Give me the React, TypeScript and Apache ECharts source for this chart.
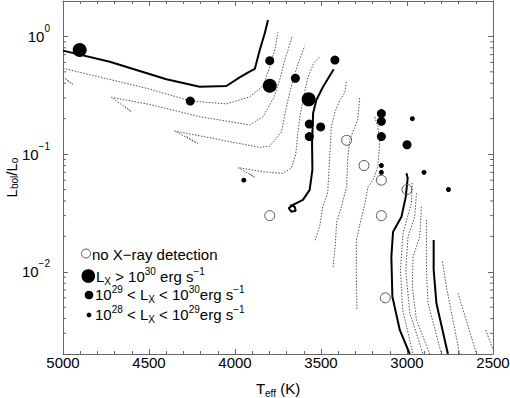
import { useEffect, useRef } from 'react';
import * as echarts from 'echarts';

const FONT = "'Liberation Sans', Arial, Helvetica, sans-serif";

// Axis ranges / ticks
const xMin = 2500;
const xMax = 5000;
const xInterval = 500;
const yMin = 0.002;
const yMax = 2;
const yMinorTicks = [
  0.003, 0.004, 0.005, 0.006, 0.007, 0.008, 0.009,
  0.02, 0.03, 0.04, 0.05, 0.06, 0.07, 0.08, 0.09,
  0.2, 0.3, 0.4, 0.5, 0.6, 0.7, 0.8, 0.9,
];

// Stars [Teff, Lbol/Lsun]
const noDetection = [
  [3351, 0.131], [3250, 0.08], [3149, 0.06], [3000, 0.05],
  [3798, 0.03], [3149, 0.03], [3126, 0.006],
];
const lxAbove30 = [[4903, 0.767], [3798, 0.381], [3572, 0.292]];
const lx29to30 = [
  [4260, 0.282], [3798, 0.622], [3649, 0.441], [3419, 0.63],
  [3568, 0.18], [3502, 0.17], [3568, 0.141], [3149, 0.221],
  [3149, 0.19], [3149, 0.141], [3000, 0.12],
];
const lx28to29 = [
  [3949, 0.06], [2969, 0.2], [3149, 0.08], [3149, 0.07], [2901, 0.07], [2759, 0.05],
];

// Solid tracks
const solid1 = [
  [5000, 0.757], [4728, 0.61], [4399, 0.432], [4205, 0.374], [4050, 0.379],
  [3973, 0.448], [3915, 0.501], [3885, 0.529], [3856, 0.767], [3827, 1.063], [3808, 1.379],
];
const solid2 = [
  [3426, 0.526], [3488, 0.374], [3527, 0.288], [3546, 0.222], [3552, 0.124],
  [3550, 0.0733], [3566, 0.0496], [3605, 0.0408], [3663, 0.037], [3688, 0.0347],
  [3672, 0.0324], [3647, 0.033], [3653, 0.0357], [3679, 0.037],
];
const solid3 = [
  [3003, 0.0687], [2996, 0.0627], [3007, 0.0435], [3032, 0.0294], [3081, 0.0219],
  [3091, 0.0134], [3085, 0.00615], [3042, 0.0032], [2984, 0.002],
];
const solid4 = [[2845, 0.0186], [2845, 0.0104], [2829, 0.0054], [2762, 0.002]];

// Dotted tracks
const dotHook = [[5000, 0.457], [4942, 0.391], [4985, 0.43]];
const dotA = [
  [5000, 0.536], [4728, 0.431], [4496, 0.357], [4259, 0.283], [4050, 0.267],
  [3915, 0.306], [3837, 0.379], [3798, 0.553], [3769, 0.767], [3750, 1.084],
];
const dotB = [
  [4641, 0.254], [4602, 0.229], [4719, 0.304], [4496, 0.264], [4205, 0.208],
  [3915, 0.177], [3839, 0.207], [3775, 0.3], [3740, 0.427], [3711, 0.631],
  [3688, 0.797], [3667, 1.008],
];
const dotC = [
  [4281, 0.141], [4217, 0.123], [4351, 0.157], [4060, 0.13], [3856, 0.114],
  [3798, 0.117], [3730, 0.154], [3699, 0.261], [3665, 0.418], [3630, 0.607], [3595, 0.829],
];
const dotD = [
  [3915, 0.0678], [3885, 0.0636], [3982, 0.0767], [3827, 0.0705], [3723, 0.0685],
  [3672, 0.0762], [3647, 0.0984], [3635, 0.151], [3621, 0.215], [3605, 0.288],
  [3577, 0.443], [3542, 0.595], [3508, 0.669],
];
const dotE = [
  [3352, 0.412], [3362, 0.331], [3391, 0.288], [3420, 0.224], [3440, 0.171],
  [3449, 0.0984], [3461, 0.0468], [3490, 0.0356], [3508, 0.0242], [3537, 0.018],
];
const dotF = [
  [3275, 0.3], [3287, 0.195], [3333, 0.132], [3345, 0.0891], [3351, 0.0529],
  [3381, 0.0357], [3409, 0.0265], [3417, 0.0169], [3430, 0.0107],
];
const dotG = [
  [3188, 0.207], [3169, 0.171], [3159, 0.124], [3169, 0.0782], [3198, 0.0603],
  [3227, 0.0526], [3246, 0.037], [3275, 0.025], [3294, 0.0186], [3295, 0.0104], [3291, 0.00474],
];
const dot1 = [[2970, 0.0569], [2974, 0.0385], [3023, 0.0214], [3038, 0.0104], [3025, 0.00474], [2965, 0.002]];
const dot2 = [[2945, 0.0465], [2955, 0.0294], [2994, 0.0199], [3007, 0.0104], [2984, 0.00447], [2907, 0.002]];
const dot3 = [[2916, 0.0357], [2926, 0.0199], [2965, 0.0134], [2969, 0.00748], [2945, 0.0039], [2868, 0.002]];
const dot4 = [[2887, 0.0276], [2887, 0.0104], [2878, 0.00543], [2800, 0.002]];
const dot5 = [[2794, 0.0122], [2771, 0.00748], [2694, 0.002]];
const dot6 = [[2703, 0.00657], [2674, 0.00474], [2596, 0.002]];
const dot7 = [[2542, 0.0032], [2500, 0.00217]];

const solidTracks = [solid1, solid2, solid3, solid4];
const dottedTracks = [dotHook, dotA, dotB, dotC, dotD, dotE, dotF, dotG, dot1, dot2, dot3, dot4, dot5, dot6, dot7];

// Legend texts
const legendTexts = [
  'no X−ray detection',
  '{n|L}{sub|X}{n| > 10}{sup|30}{n| erg s}{sup|−1}',
  '{n|10}{sup|29}{n| < L}{sub|X}{n| < 10}{sup|30}{n|erg s}{sup|−1}',
  '{n|10}{sup|28}{n| < L}{sub|X}{n| < 10}{sup|29}{n|erg s}{sup|−1}',
];

const AX = '#666';

const richScript = (lh: number, slh = 10) => ({
  n: { fontFamily: FONT, fontSize: 15, lineHeight: lh, color: '#000' },
  b: { fontFamily: FONT, fontSize: 15, lineHeight: lh, color: '#000' },
  sup: { fontFamily: FONT, fontSize: 10, lineHeight: slh, verticalAlign: 'top', color: '#000' },
  sub: { fontFamily: FONT, fontSize: 10, lineHeight: slh, verticalAlign: 'bottom', color: '#000' },
});

export default function App() {
  const ref = useRef<HTMLDivElement>(null);
  useEffect(() => {
    if (!ref.current) return;
    const chart = echarts.init(ref.current, null, { renderer: 'svg' });

    const baseX = {
      type: 'value',
      min: xMin,
      max: xMax,
      interval: xInterval,
      inverse: true,
      splitLine: { show: false },
      axisLine: { lineStyle: { color: AX, width: 1 } },
      axisTick: { inside: true, length: 5, lineStyle: { color: AX } },
      minorTick: { show: true, splitNumber: 5, length: 3, lineStyle: { color: AX } },
    };
    const baseY = {
      type: 'log',
      logBase: 10,
      min: yMin,
      max: yMax,
      splitLine: { show: false },
      axisLine: { lineStyle: { color: AX, width: 1 } },
      axisTick: { inside: true, length: 5, lineStyle: { color: AX } },
    };

    const series: any[] = [];
    dottedTracks.forEach((d) => {
      series.push({
        type: 'line', data: d, symbol: 'none', silent: true, z: 2,
        lineStyle: { color: '#555', width: 1, type: [1.5, 1.5] },
      });
    });
    solidTracks.forEach((d) => {
      series.push({
        type: 'line', data: d, symbol: 'none', silent: true, z: 3,
        lineStyle: { color: '#000', width: 2 },
      });
    });
    series.push({
      type: 'custom',
      silent: true,
      z: 4,
      clip: false,
      data: yMinorTicks.map((v) => [3750, v]),
      encode: { x: 0, y: 1 },
      renderItem: (params: any, api: any) => {
        const p = api.coord([3750, api.value(1)]);
        const cs = params.coordSys;
        return {
          type: 'group',
          children: [
            { type: 'line', shape: { x1: cs.x, y1: p[1], x2: cs.x + 3, y2: p[1] }, style: { stroke: AX, lineWidth: 1 } },
            { type: 'line', shape: { x1: cs.x + cs.width - 3, y1: p[1], x2: cs.x + cs.width, y2: p[1] }, style: { stroke: AX, lineWidth: 1 } },
          ],
        };
      },
    });
    series.push({
      type: 'scatter', data: noDetection, symbol: 'circle', symbolSize: 10, z: 5,
      itemStyle: { color: 'transparent', borderColor: '#555', borderWidth: 1, opacity: 1 },
    });
    series.push({ type: 'scatter', data: lxAbove30, symbol: 'circle', symbolSize: 14, z: 5, itemStyle: { color: '#000', opacity: 1 } });
    series.push({ type: 'scatter', data: lx29to30, symbol: 'circle', symbolSize: 9, z: 5, itemStyle: { color: '#000', opacity: 1 } });
    series.push({ type: 'scatter', data: lx28to29, symbol: 'circle', symbolSize: 5, z: 5, itemStyle: { color: '#000', opacity: 1 } });

    const legendY = [254.5, 276, 294.5, 314.5];
    const legendX = [92, 96, 95, 95];
    const graphic: any[] = [
      { type: 'circle', shape: { cx: 86, cy: 253.5, r: 4.5 }, style: { fill: 'none', stroke: '#555', lineWidth: 1 } },
      { type: 'circle', shape: { cx: 88.3, cy: 276, r: 6.8 }, style: { fill: '#000' } },
      { type: 'circle', shape: { cx: 89, cy: 295, r: 4.3 }, style: { fill: '#000' } },
      { type: 'circle', shape: { cx: 89, cy: 315, r: 2.4 }, style: { fill: '#000' } },
    ];
    legendTexts.forEach((t, i) => {
      graphic.push({
        type: 'text',
        x: legendX[i],
        y: legendY[i],
        style: {
          text: i === 0 ? `{n|${t}}` : t,
          rich: richScript(20),
          fontFamily: FONT,
          fontSize: 15,
          fill: '#000',
          align: 'left',
          verticalAlign: 'middle',
        },
      });
    });

    chart.setOption({
      animation: false,
      backgroundColor: '#fff',
      grid: { left: 63, right: 17, top: 1, bottom: 44, outerBoundsMode: 'none' },
      xAxis: [
        {
          ...baseX,
          position: 'bottom',
          name: '{n|T}{sub|eff}{n| (K)}',
          nameLocation: 'middle',
          nameGap: 24,
          nameMoveOverlap: false,
          nameTextStyle: { rich: richScript(20) },
          axisLabel: {
            margin: 1,
            fontFamily: FONT,
            fontSize: 15,
            color: '#000',
            formatter: (v: number) => String(v),
          },
        },
        { ...baseX, position: 'top', axisLabel: { show: false } },
      ],
      yAxis: [
        {
          ...baseY,
          position: 'left',
          name: '{n|L}{sub|bol}{n|/L}{sub|o}',
          nameLocation: 'middle',
          nameRotate: 90,
          nameGap: 44,
          nameMoveOverlap: false,
          nameTextStyle: { rich: richScript(16, 8) },
          axisLabel: {
            margin: 13,
            showMinLabel: false,
            showMaxLabel: false,
            formatter: (v: number) => {
              const e = Math.round(Math.log10(v));
              return `{b|10}{sup|${e < 0 ? '−' + -e : e}}`;
            },
            rich: richScript(26),
          },
        },
        { ...baseY, position: 'right', axisLabel: { show: false } },
      ],
      series,
      graphic,
    });
    return () => chart.dispose();
  }, []);
  return <div ref={ref} style={{ position: 'absolute', left: 0, top: 0, width: 510, height: 398, background: '#fff' }} />;
}
